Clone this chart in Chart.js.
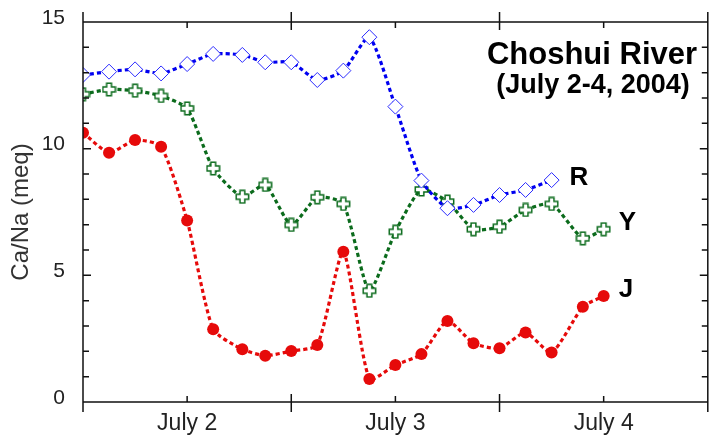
<!DOCTYPE html>
<html>
<head>
<meta charset="utf-8">
<script src="https://cdn.jsdelivr.net/npm/chart.js@4"></script>
<style>
  html, body { margin: 0; padding: 0; overflow: hidden; background: #fff; }
  #wrap { width: 718px; height: 437px; }
</style>
</head>
<body>
<div id="wrap"><canvas id="chart"></canvas></div>
<script>
// Sampling times (day of July 2004) and Ca/Na ratios per station
const times = [1.5, 1.625, 1.75, 1.875, 2.0, 2.125, 2.265, 2.375, 2.5, 2.625, 2.75,
               2.875, 3.0, 3.125, 3.25, 3.375, 3.5, 3.625, 3.75, 3.9, 4.0];
const seriesR = [12.91, 13.04, 13.13, 12.97, 13.34, 13.74, 13.70, 13.41, 13.41, 12.71,
                 13.08, 14.40, 11.66, 8.74, 7.65, 7.78, 8.17, 8.37, 8.76];
const seriesY = [12.15, 12.34, 12.29, 12.08, 11.59, 9.22, 8.10, 8.57, 6.99, 8.08, 7.82,
                 4.39, 6.72, 8.39, 7.91, 6.82, 6.92, 7.58, 7.82, 6.46, 6.82];
const seriesJ = [10.63, 9.84, 10.34, 10.08, 7.16, 2.87, 2.08, 1.83, 2.01, 2.25, 5.93,
                 0.91, 1.46, 1.89, 3.20, 2.32, 2.12, 2.74, 1.95, 3.76, 4.18];
const yTicks = [0, 5, 10, 15];
const dayLabels = [2, 3, 4];

const FONT = "'Liberation Sans', Arial, Helvetica, sans-serif";
const BLUE = '#0000f0';
const GREEN = '#0b6b1c';
const RED = '#e60a0a';

// hollow plus marker for the Y series
function plusMarker() {
  const c = document.createElement('canvas');
  c.width = 15; c.height = 15;
  const g = c.getContext('2d');
  const m = 7.5, a = 6.2, b = 2.4;
  g.beginPath();
  g.moveTo(m - b, m - a); g.lineTo(m + b, m - a); g.lineTo(m + b, m - b);
  g.lineTo(m + a, m - b); g.lineTo(m + a, m + b); g.lineTo(m + b, m + b);
  g.lineTo(m + b, m + a); g.lineTo(m - b, m + a); g.lineTo(m - b, m + b);
  g.lineTo(m - a, m + b); g.lineTo(m - a, m - b); g.lineTo(m - b, m - b);
  g.closePath();
  g.fillStyle = '#fff';
  g.fill();
  g.strokeStyle = GREEN;
  g.lineWidth = 1.5;
  g.stroke();
  return c;
}

const pts = arr => arr.map((v, i) => ({ x: times[i], y: v }));

const line = {
  borderWidth: 3.2,
  borderDash: [4, 3],
  tension: 0.2,
  fill: false
};

// frame, inward ticks and text annotations
const frame = {
  id: 'frame',
  afterDatasetsDraw(chart) {
    const { ctx, chartArea: a, scales: { x, y } } = chart;
    ctx.save();
    ctx.strokeStyle = '#111';
    ctx.lineWidth = 1.5;
    ctx.beginPath();
    ctx.moveTo(a.left, a.top - 10); ctx.lineTo(a.left, a.bottom + 10);
    ctx.moveTo(a.right, a.top - 10); ctx.lineTo(a.right, a.bottom + 10);
    ctx.moveTo(a.left, a.top); ctx.lineTo(a.right, a.top);
    ctx.moveTo(a.left, a.bottom); ctx.lineTo(a.right, a.bottom);
    for (let v = 1; v < 15; v++) {
      const py = y.getPixelForValue(v);
      const len = v % 5 ? 6 : 8;
      ctx.moveTo(a.left, py); ctx.lineTo(a.left + len, py);
      ctx.moveTo(a.right, py); ctx.lineTo(a.right - len, py);
    }
    for (let v = 2; v <= 4; v += 0.5) {
      const px = x.getPixelForValue(v);
      if (Number.isInteger(v)) {
        ctx.moveTo(px, a.top); ctx.lineTo(px, a.top + 6);
        ctx.moveTo(px, a.bottom); ctx.lineTo(px, a.bottom - 6);
      } else {
        ctx.moveTo(px, a.top - 10); ctx.lineTo(px, a.top + 8);
        ctx.moveTo(px, a.bottom - 8); ctx.lineTo(px, a.bottom + 10);
      }
    }
    ctx.stroke();

    ctx.fillStyle = '#000';
    ctx.textBaseline = 'middle';
    ctx.textAlign = 'center';
    ctx.font = 'bold 31px ' + FONT;
    ctx.fillText('Choshui River', a.left + 509, 55);
    ctx.font = 'bold 27px ' + FONT;
    ctx.fillText('(July 2-4, 2004)', a.left + 510, 86);

    // series names next to the last point of each line
    ctx.textAlign = 'left';
    ctx.font = 'bold 26px ' + FONT;
    const offs = [[18, -2], [15, -6], [15, -6]];
    chart.data.datasets.forEach((ds, i) => {
      const meta = chart.getDatasetMeta(i);
      const last = meta.data[meta.data.length - 1];
      ctx.fillText(ds.label, last.x + offs[i][0], last.y + offs[i][1]);
    });
    ctx.restore();
  }
};

new Chart(document.getElementById('chart'), {
  type: 'line',
  data: {
    datasets: [
      Object.assign({
        label: 'R',
        data: pts(seriesR),
        borderColor: BLUE,
        pointStyle: 'rectRot',
        pointRadius: 7.5,
        pointBorderWidth: 1,
        pointBorderColor: '#2a2aff',
        pointBackgroundColor: '#fff'
      }, line),
      Object.assign({
        label: 'Y',
        data: pts(seriesY),
        borderColor: GREEN,
        pointStyle: plusMarker(),
        pointRadius: 7
      }, line),
      Object.assign({
        label: 'J',
        data: pts(seriesJ),
        borderColor: RED,
        pointStyle: 'circle',
        pointRadius: 6,
        pointBorderWidth: 0,
        pointBackgroundColor: RED
      }, line)
    ]
  },
  options: {
    responsive: true,
    maintainAspectRatio: false,
    animation: false,
    layout: { padding: { top: 22, left: 0, right: 0, bottom: 0 } },
    plugins: { legend: { display: false }, tooltip: { enabled: false } },
    scales: {
      x: {
        type: 'linear',
        min: 1.5,
        max: 4.5,
        grid: { display: false, drawTicks: false },
        border: { display: false },
        afterBuildTicks: s => {
          s.ticks = [1.5].concat(dayLabels).map(v => ({ value: v }));
        },
        ticks: {
          autoSkip: false,
          maxRotation: 0,
          padding: 8,
          color: '#222',
          font: { family: FONT, size: 23 },
          callback: v => dayLabels.includes(v) ? 'July ' + v : ''
        },
        afterFit: s => { s.height = 35; s.paddingLeft = 0; s.paddingRight = 0; }
      },
      y: {
        min: 0,
        max: 15,
        grid: { display: false, drawTicks: false },
        border: { display: false },
        afterBuildTicks: s => { s.ticks = yTicks.map(v => ({ value: v })); },
        ticks: {
          padding: 18,
          labelOffset: -4,
          color: '#222',
          font: { family: FONT, size: 21 }
        },
        title: {
          display: true,
          text: 'Ca/Na (meq)',
          color: '#333',
          font: { family: FONT, size: 24 },
          padding: { top: 7, bottom: 0 }
        },
        afterFit: s => { s.width = 83; s.paddingTop = 0; s.paddingBottom = 0; }
      }
    }
  },
  plugins: [frame]
});
</script>
</body>
</html>
